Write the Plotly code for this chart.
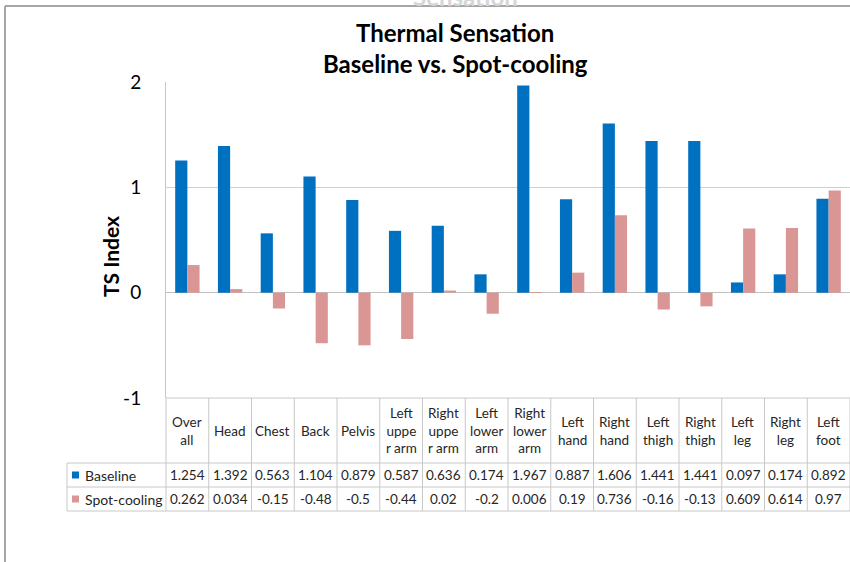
import plotly.graph_objects as go

categories = ["Overall", "Head", "Chest", "Back", "Pelvis", "Left upper arm", "Right upper arm",
              "Left lower arm", "Right lower arm", "Left hand", "Right hand", "Left thigh",
              "Right thigh", "Left leg", "Right leg", "Left foot"]
header_labels = ["Over<br>all", "Head", "Chest", "Back", "Pelvis", "Left<br>uppe<br>r arm",
                 "Right<br>uppe<br>r arm", "Left<br>lower<br>arm", "Right<br>lower<br>arm",
                 "Left<br>hand", "Right<br>hand", "Left<br>thigh", "Right<br>thigh",
                 "Left<br>leg", "Right<br>leg", "Left<br>foot"]
baseline = [1.254, 1.392, 0.563, 1.104, 0.879, 0.587, 0.636, 0.174, 1.967, 0.887, 1.606,
            1.441, 1.441, 0.097, 0.174, 0.892]
spot_cooling = [0.262, 0.034, -0.15, -0.48, -0.5, -0.44, 0.02, -0.2, 0.006, 0.19, 0.736,
                -0.16, -0.13, 0.609, 0.614, 0.97]
series_names = ["Baseline", "Spot-cooling"]
series_colors = ["#0070C0", "#D99694"]
y_ticks = [-1, 0, 1, 2]

W, H = 850, 562
L, R, T, B = 166, 850, 82, 398
FONT = "Lato"
TXT = "#262626"
GRID = "#D0D0D0"


def px(x):
    return (x - L) / (R - L)


def py(y):
    return (B - y) / (B - T)


def note(text, x, y, size=13.5, color=TXT, xanchor="center", **kw):
    return dict(text=text, xref="paper", yref="paper", x=x, y=y, showarrow=False,
                xanchor=xanchor, yanchor="middle",
                font=dict(family=FONT, size=size, color=color), **kw)


fig = go.Figure()
for name, vals, col in zip(series_names, [baseline, spot_cooling], series_colors):
    fig.add_trace(go.Bar(x=categories, y=vals, name=name, marker_color=col,
                         marker_line_width=0))

shapes = []
line = dict(color="#C8C8C8", width=1)
# outer frame
shapes.append(dict(type="line", xref="paper", yref="paper", x0=px(5), x1=px(852),
                   y0=py(6), y1=py(6), line=dict(color="#A6A6A6", width=2)))
shapes.append(dict(type="line", xref="paper", yref="paper", x0=px(5), x1=px(5),
                   y0=py(6), y1=py(565), line=dict(color="#A6A6A6", width=2)))
# table
n = len(categories)
row_y = [463, 487, 511]
for i in range(n + 1):
    shapes.append(dict(type="line", xref="paper", yref="paper", x0=i / n, x1=i / n,
                       y0=py(398), y1=py(511), line=line))
for yv in row_y:
    shapes.append(dict(type="line", xref="paper", yref="paper", x0=px(67), x1=1,
                       y0=py(yv), y1=py(yv), line=line))
shapes.append(dict(type="line", xref="paper", yref="paper", x0=px(67), x1=px(67),
                   y0=py(463), y1=py(511), line=line))
shapes.append(dict(type="line", xref="paper", yref="paper", x0=0, x1=1,
                   y0=0, y1=0, line=line))

annotations = []
# faint ghost of a title visible above the frame in the reference
annotations.append(note("<b>Sensation</b>", px(465), py(-4), size=24, color="#D6D6D6"))
annotations.append(note("<b>Thermal Sensation</b>", px(455), py(32), size=24, color="#000"))
annotations.append(note("<b>Baseline vs. Spot-cooling</b>", px(455), py(64), size=24, color="#000"))
annotations.append(note("<b>TS Index</b>", px(110), py(257), size=21, color="#000", textangle=-90))
for i, lab in enumerate(header_labels):
    annotations.append(note(lab, (i + 0.5) / n, py(430.5), align="center"))
for r, (name, vals, col) in enumerate(zip(series_names, [baseline, spot_cooling], series_colors)):
    ymid = (row_y[r] + row_y[r + 1]) / 2
    yc = py(ymid)
    shapes.append(dict(type="rect", xref="paper", yref="paper", x0=px(72), x1=px(79),
                       y0=py(ymid + 3.5), y1=py(ymid - 3.5), fillcolor=col,
                       line=dict(width=0)))
    annotations.append(note(name, px(83), yc, size=14, xanchor="left"))
    for i, v in enumerate(vals):
        annotations.append(note(f"{v:g}", (i + 0.5) / n, yc))

fig.update_layout(
    width=W, height=H,
    margin=dict(l=L, r=W - R, t=T, b=H - B, pad=0),
    paper_bgcolor="white", plot_bgcolor="white",
    barmode="group", bargap=0.43, bargroupgap=0,
    showlegend=False,
    shapes=shapes, annotations=annotations,
    xaxis=dict(showticklabels=False, showgrid=False, zeroline=False, showline=False,
               range=[-0.5, n - 0.5], fixedrange=True),
    yaxis=dict(range=[-1, 2], tickvals=y_ticks, ticktext=[str(t) for t in y_ticks],
               showgrid=True, gridcolor=GRID, gridwidth=1,
               zeroline=True, zerolinecolor="#BFBFBF", zerolinewidth=1,
               showline=True, linecolor="#C8C8C8", linewidth=1,
               ticks="", ticklabelstandoff=20,
               tickfont=dict(family=FONT, size=19, color="#000")),
)

fig.write_html("out.html", config={"displayModeBar": False},
               post_script="document.body.style.margin='0';document.body.style.overflow='hidden';")
